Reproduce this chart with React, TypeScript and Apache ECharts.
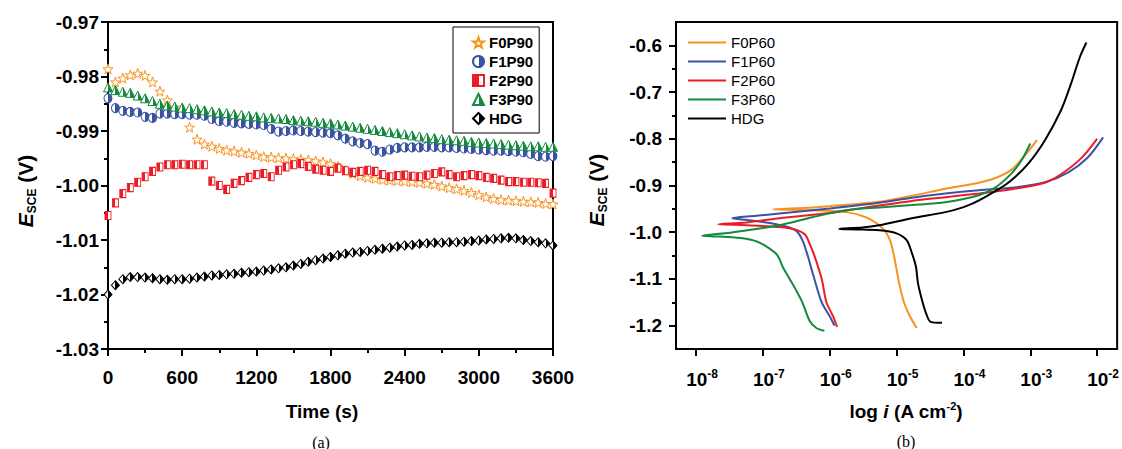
import React, { useEffect, useRef } from "react";
import * as echarts from "echarts";

// ---------- Panel (a): open-circuit potential vs time ----------
const timeS = [
  0, 60, 120, 180, 240, 300, 360, 420, 480, 540,
  600, 660, 720, 780, 840, 900, 960, 1020, 1080, 1140,
  1200, 1260, 1320, 1380, 1440, 1500, 1560, 1620, 1680, 1740,
  1800, 1860, 1920, 1980, 2040, 2100, 2160, 2220, 2280, 2340,
  2400, 2460, 2520, 2580, 2640, 2700, 2760, 2820, 2880, 2940,
  3000, 3060, 3120, 3180, 3240, 3300, 3360, 3420, 3480, 3540,
  3600,
];

const eF0P90 = [
  -0.9786, -0.981, -0.9803, -0.9797, -0.9794, -0.9798, -0.981, -0.9827, -0.9843, -0.9856,
  null, -0.9893, -0.9915, -0.9924, -0.9928, -0.9932, -0.9935, -0.9937, -0.9939, -0.9941,
  -0.9944, -0.9947, -0.9948, -0.9949, -0.995, -0.9951, -0.9952, -0.9953, -0.9955, -0.9957,
  -0.996, -0.9965, -0.9972, -0.9978, -0.9982, -0.9985, -0.9987, -0.9989, -0.999, -0.9991,
  -0.9992, -0.9993, -0.9994, -0.9996, -0.9998, -1.0001, -1.0004, -1.0006, -1.0009, -1.0013,
  -1.0017, -1.0021, -1.0024, -1.0026, -1.0027, -1.0028, -1.0029, -1.003, -1.0031, -1.0033,
  -1.0034,
];

const eF1P90 = [
  -0.984, -0.9858, -0.9863, -0.9865, -0.9866, -0.9874, -0.9876, -0.9868, -0.9868, -0.9869,
  -0.9869, -0.987, -0.987, -0.9872, -0.9878, -0.9882, -0.9883, -0.9885, -0.9886, -0.9887,
  -0.9888, -0.9889, -0.9896, -0.9901, -0.99, -0.9899, -0.99, -0.9901, -0.9902, -0.9903,
  -0.9904, -0.9908, -0.9914, -0.9919, -0.9922, -0.9924, -0.9936, -0.9938, -0.9934, -0.9931,
  -0.993, -0.993, -0.993, -0.9929, -0.9929, -0.993, -0.993, -0.9931, -0.9932, -0.9933,
  -0.9934, -0.9935, -0.9936, -0.9936, -0.9937, -0.9938, -0.9939, -0.9942, -0.9946, -0.9947,
  -0.9946,
];

const eF2P90 = [
  -1.0055, -1.0032, -1.0015, -1.0004, -0.9994, -0.9984, -0.9974, -0.9966, -0.9962, -0.9962,
  -0.9961, -0.9962, -0.9962, -0.9962, -0.9992, -1.0, -1.0007, -0.9996, -0.9991, -0.9985,
  -0.998, -0.9978, -0.9984, -0.9972, -0.9966, -0.9962, -0.996, -0.9965, -0.997, -0.9972,
  -0.9974, -0.9968, -0.9973, -0.9976, -0.9974, -0.9972, -0.9974, -0.998, -0.9984, -0.9982,
  -0.9981, -0.9983, -0.9984, -0.9981, -0.9978, -0.9975, -0.998, -0.9984, -0.9982, -0.998,
  -0.9982, -0.9985, -0.9987, -0.999, -0.9993, -0.9993, -0.9994, -0.9994, -0.9995, -0.9996,
  -1.0014,
];

const eF3P90 = [
  -0.982, -0.9825, -0.9828, -0.983, -0.9835, -0.984, -0.9845, -0.985, -0.9853, -0.9855,
  -0.9857, -0.9858, -0.986, -0.9862, -0.9864, -0.9866, -0.9867, -0.9869, -0.987, -0.9872,
  -0.9873, -0.9875, -0.9876, -0.9877, -0.9878, -0.988, -0.9881, -0.9882, -0.9883, -0.9885,
  -0.9886, -0.9888, -0.989, -0.9892, -0.9894, -0.9896, -0.9898, -0.99, -0.9902, -0.9904,
  -0.9906, -0.9908, -0.991, -0.9912, -0.9913, -0.9915, -0.9916, -0.9917, -0.9918, -0.992,
  -0.9921, -0.9922, -0.9923, -0.9924, -0.9925, -0.9926, -0.9927, -0.9928, -0.9928, -0.9929,
  -0.9929,
];

const eHDG90 = [
  -1.02, -1.0183, -1.0172, -1.0168, -1.0168, -1.0169, -1.017, -1.0172, -1.0173, -1.0172,
  -1.0172, -1.0171, -1.0169, -1.0167, -1.0165, -1.0164, -1.0163, -1.0162, -1.016, -1.0159,
  -1.0158, -1.0156, -1.0154, -1.0152, -1.015, -1.0147, -1.0144, -1.014, -1.0137, -1.0134,
  -1.0131, -1.0128, -1.0125, -1.0123, -1.0122, -1.012, -1.0118, -1.0116, -1.0114, -1.0112,
  -1.011, -1.0109, -1.0107, -1.0106, -1.0105, -1.0105, -1.0104, -1.0104, -1.0103, -1.0102,
  -1.0101, -1.0099, -1.0098, -1.0097, -1.0096, -1.0097, -1.01, -1.0102, -1.0104, -1.0106,
  -1.011,
];

const timeTicks = [0, 600, 1200, 1800, 2400, 3000, 3600];

// ---------- Panel (b): polarization curves (log10 i, E) ----------
const logiF0P60 = [-4.7, -4.8, -4.89, -4.96, -5.0, -5.04, -5.09, -5.16, -5.26, -5.46, -5.75, -6.3, -6.85, -6.26, -5.75, -5.26, -4.77, -4.27, -3.77, -3.52, -3.28, -3.07, -2.9];
const eF0P60 = [-1.205, -1.18, -1.15, -1.11, -1.08, -1.05, -1.02, -1.0, -0.985, -0.968, -0.957, -0.953, -0.951, -0.947, -0.941, -0.935, -0.922, -0.907, -0.894, -0.884, -0.866, -0.834, -0.803];

const logiF1P60 = [-5.93, -6.0, -6.12, -6.23, -6.33, -6.4, -6.48, -6.6, -6.8, -7.0, -7.24, -7.46, -7.1, -6.75, -6.0, -5.26, -4.77, -4.27, -3.77, -3.28, -2.78, -2.43, -2.14, -1.91];
const eF1P60 = [-1.2, -1.18, -1.15, -1.1, -1.05, -1.02, -1.0, -0.99, -0.983, -0.978, -0.974, -0.97, -0.965, -0.96, -0.949, -0.937, -0.926, -0.917, -0.91, -0.905, -0.893, -0.872, -0.84, -0.797];

const logiF2P60 = [-5.89, -5.95, -6.05, -6.12, -6.23, -6.3, -6.37, -6.5, -6.75, -7.24, -7.67, -7.24, -6.75, -6.0, -5.26, -4.77, -4.27, -3.77, -3.28, -2.78, -2.54, -2.24, -2.0];
const eF2P60 = [-1.203, -1.18, -1.15, -1.1, -1.05, -1.025, -1.005, -0.995, -0.989, -0.985, -0.983, -0.979, -0.97, -0.959, -0.943, -0.933, -0.925, -0.917, -0.908, -0.894, -0.876, -0.842, -0.8];

const logiF3P60 = [-6.08, -6.2, -6.3, -6.41, -6.5, -6.6, -6.7, -6.78, -6.9, -7.09, -7.3, -7.54, -7.75, -7.91, -7.49, -7.0, -6.75, -6.26, -5.76, -5.26, -4.77, -4.27, -3.77, -3.52, -3.28, -3.13, -3.0];
const eF3P60 = [-1.211, -1.205, -1.19, -1.15, -1.125, -1.1, -1.075, -1.05, -1.035, -1.02, -1.013, -1.01, -1.009, -1.0075, -1.001, -0.991, -0.985, -0.968, -0.953, -0.947, -0.942, -0.936, -0.921, -0.904, -0.874, -0.846, -0.81];

const logiHDG60 = [-4.32, -4.49, -4.56, -4.62, -4.68, -4.71, -4.77, -4.85, -5.01, -5.26, -5.6, -5.86, -5.51, -5.26, -4.77, -4.27, -3.92, -3.63, -3.32, -3.03, -2.78, -2.54, -2.39, -2.26, -2.16];
const eHDG60 = [-1.194, -1.192, -1.173, -1.145, -1.109, -1.074, -1.045, -1.017, -1.002, -0.996, -0.994, -0.993, -0.99, -0.985, -0.97, -0.957, -0.942, -0.921, -0.893, -0.853, -0.803, -0.739, -0.682, -0.626, -0.594];

const logiTicks = [-8, -7, -6, -5, -4, -3, -2];
const eTicksB = [-1.2, -1.1, -1.0, -0.9, -0.8, -0.7, -0.6];

const FONT = '"Liberation Sans", Arial, Helvetica, sans-serif';
const SERIF = '"Liberation Serif", "Times New Roman", serif';

const ORANGE = "#f7931e";
const BLUE = "#3a52a3";
const RED = "#ed1c24";
const GREEN = "#138a3e";
const BLACK = "#000000";

const halfFill = (left: string, right: string) => ({
  type: "linear",
  x: 0,
  y: 0,
  x2: 1,
  y2: 0,
  colorStops: [
    { offset: 0, color: left },
    { offset: 0.5, color: left },
    { offset: 0.5, color: right },
    { offset: 1, color: right },
  ],
});

const STAR =
  "path://M10,0 L12.35,7.24 L19.51,7.24 L13.78,11.71 L15.88,18.09 L10,14.27 L4.12,18.09 L6.22,11.71 L0.49,7.24 L7.65,7.24 Z";

const pairs = (xs: number[], ys: (number | null)[]) => xs.map((x, i) => [x, ys[i]]);

export default function App() {
  const ref = useRef<HTMLDivElement>(null);

  useEffect(() => {
    if (!ref.current) return;
    const chart = echarts.init(ref.current, null, { renderer: "svg" });

    const axisLineStyle = { show: true, onZero: false, lineStyle: { color: "#000", width: 2 } };
    const labelStyle = { color: "#000", fontFamily: FONT, fontWeight: "bold", fontSize: 19 };

    const scatterBase = (name: string, data: any[], symbol: string, size: any, fill: any, color: string) => ({
      type: "scatter",
      name,
      xAxisIndex: 0,
      yAxisIndex: 0,
      data,
      symbol,
      symbolSize: size,
      itemStyle: { color: fill, borderColor: color, borderWidth: 1, opacity: 1 },
      emphasis: { disabled: true },
    });

    const lineBase = (name: string, data: any[], color: string) => ({
      type: "line",
      name,
      xAxisIndex: 1,
      yAxisIndex: 1,
      data,
      showSymbol: false,
      symbol: "none",
      smooth: 0.3,
      lineStyle: { color, width: 2 },
      itemStyle: { color },
      emphasis: { disabled: true },
    });

    const option: any = {
      animation: false,
      backgroundColor: "#ffffff",
      grid: [
        { left: 108, top: 22, width: 445, height: 327, show: true, borderColor: "#000", borderWidth: 2, backgroundColor: "transparent" },
        { left: 676, top: 22, width: 443, height: 327, show: true, borderColor: "#000", borderWidth: 2, backgroundColor: "transparent" },
      ],
      xAxis: [
        {
          type: "value",
          gridIndex: 0,
          min: 0,
          max: 3600,
          interval: 600,
          axisLine: axisLineStyle,
          axisTick: { show: true, length: 7, lineStyle: { color: "#000", width: 2 } },
          minorTick: { show: true, splitNumber: 2, length: 4, lineStyle: { color: "#000", width: 2 } },
          splitLine: { show: false },
          axisLabel: { ...labelStyle, margin: 19, customValues: timeTicks, formatter: (v: number) => String(v) },
        },
        {
          type: "value",
          gridIndex: 1,
          min: -8.3,
          max: -1.7,
          splitNumber: 6,
          axisLine: axisLineStyle,
          axisTick: { show: true, length: 7, lineStyle: { color: "#000", width: 2 }, customValues: logiTicks },
          splitLine: { show: false },
          axisLabel: {
            margin: 19,
            customValues: logiTicks,
            formatter: (v: number) => `{s| }{b|10}{sup|${Math.round(v)}}`,
            rich: {
              s: { width: 12, fontSize: 12 },
              b: { ...labelStyle, fontSize: 19, lineHeight: 22, verticalAlign: "middle" },
              sup: { ...labelStyle, fontSize: 12, lineHeight: 12, verticalAlign: "top" },
            },
          },
        },
      ],
      yAxis: [
        {
          type: "value",
          gridIndex: 0,
          min: -1.03,
          max: -0.97,
          interval: 0.01,
          axisLine: axisLineStyle,
          axisTick: { show: true, length: 7, lineStyle: { color: "#000", width: 2 } },
          minorTick: { show: true, splitNumber: 2, length: 4, lineStyle: { color: "#000", width: 2 } },
          splitLine: { show: false },
          axisLabel: { ...labelStyle, margin: 9, formatter: (v: number) => v.toFixed(2) },
        },
        {
          type: "value",
          gridIndex: 1,
          min: -1.25,
          max: -0.55,
          splitNumber: 7,
          axisLine: axisLineStyle,
          axisTick: { show: true, length: 7, lineStyle: { color: "#000", width: 2 }, customValues: eTicksB },
          minorTick: { show: true, splitNumber: 2, length: 4, lineStyle: { color: "#000", width: 2 } },
          splitLine: { show: false },
          axisLabel: { ...labelStyle, margin: 14, customValues: eTicksB, formatter: (v: number) => v.toFixed(1) },
        },
      ],
      legend: [
        {
          left: 453,
          top: 27,
          orient: "vertical",
          data: ["F0P90", "F1P90", "F2P90", "F3P90", "HDG"],
          borderColor: "#000",
          borderWidth: 1,
          padding: [6, 6, 5, 19],
          itemGap: 0,
          itemWidth: 11,
          itemHeight: 11,
          itemTextGap: 13,
          selectedMode: false,
          textStyle: { color: "#000", fontFamily: FONT, fontWeight: "bold", fontSize: 15, lineHeight: 19 },
        },
        {
          left: 688,
          top: 33,
          orient: "vertical",
          data: [
            { name: "F0P60", icon: "rect" },
            { name: "F1P60", icon: "rect" },
            { name: "F2P60", icon: "rect" },
            { name: "F3P60", icon: "rect" },
            { name: "HDG ", icon: "rect" },
          ],
          padding: 0,
          itemGap: 0,
          itemWidth: 38,
          itemHeight: 2,
          itemTextGap: 3,
          selectedMode: false,
          textStyle: { color: "#000", fontFamily: FONT, fontSize: 15, lineHeight: 19 },
        },
      ],
      series: [
        scatterBase("F0P90", pairs(timeS, eF0P90), STAR, 10, "#ffffff", ORANGE),
        scatterBase("F1P90", pairs(timeS, eF1P90), "circle", [8, 9], halfFill("#ffffff", BLUE), BLUE),
        scatterBase("F2P90", pairs(timeS, eF2P90), "rect", [6, 8], halfFill(RED, "#ffffff"), RED),
        scatterBase("F3P90", pairs(timeS, eF3P90), "triangle", [9, 9], halfFill("#ffffff", GREEN), GREEN),
        scatterBase("HDG", pairs(timeS, eHDG90), "diamond", [8, 9], halfFill("#ffffff", BLACK), BLACK),
        lineBase("F0P60", pairs(logiF0P60, eF0P60), ORANGE),
        lineBase("F1P60", pairs(logiF1P60, eF1P60), BLUE),
        lineBase("F2P60", pairs(logiF2P60, eF2P60), RED),
        lineBase("F3P60", pairs(logiF3P60, eF3P60), GREEN),
        lineBase("HDG ", pairs(logiHDG60, eHDG60), BLACK),
      ],
      graphic: [
        {
          type: "text",
          x: 322,
          y: 411,
          style: { text: "Time (s)", font: `bold 19px ${FONT}`, fill: "#000", align: "center", verticalAlign: "middle" },
        },
        {
          type: "text",
          x: 906,
          y: 411,
          style: {
            text: "{b|log }{i|i}{b| (A cm}{sup|-2}{b|)}",
            align: "center",
            verticalAlign: "middle",
            rich: {
              b: { fontFamily: FONT, fontWeight: "bold", fontSize: 19, lineHeight: 22, verticalAlign: "middle", fill: "#000" },
              i: { fontFamily: FONT, fontWeight: "bold", fontStyle: "italic", fontSize: 19, lineHeight: 22, verticalAlign: "middle", fill: "#000" },
              sup: { fontFamily: FONT, fontWeight: "bold", fontSize: 11, lineHeight: 11, verticalAlign: "top", fill: "#000" },
            },
          },
        },
        {
          type: "text",
          x: 25,
          y: 191,
          rotation: Math.PI / 2,
          style: {
            text: "{e|E}{s|SCE}{b| (V)}",
            align: "center",
            verticalAlign: "middle",
            rich: {
              e: { fontFamily: FONT, fontWeight: "bold", fontStyle: "italic", fontSize: 21, lineHeight: 26, verticalAlign: "middle", fill: "#000" },
              s: { fontFamily: FONT, fontWeight: "bold", fontSize: 12, lineHeight: 12, verticalAlign: "bottom", fill: "#000" },
              b: { fontFamily: FONT, fontWeight: "bold", fontSize: 21, lineHeight: 26, verticalAlign: "middle", fill: "#000" },
            },
          },
        },
        {
          type: "text",
          x: 596,
          y: 190,
          rotation: Math.PI / 2,
          style: {
            text: "{e|E}{s|SCE}{b| (V)}",
            align: "center",
            verticalAlign: "middle",
            rich: {
              e: { fontFamily: FONT, fontWeight: "bold", fontStyle: "italic", fontSize: 21, lineHeight: 26, verticalAlign: "middle", fill: "#000" },
              s: { fontFamily: FONT, fontWeight: "bold", fontSize: 12, lineHeight: 12, verticalAlign: "bottom", fill: "#000" },
              b: { fontFamily: FONT, fontWeight: "bold", fontSize: 21, lineHeight: 26, verticalAlign: "middle", fill: "#000" },
            },
          },
        },
        {
          type: "text",
          x: 321,
          y: 442,
          style: { text: "(a)", font: `16px ${SERIF}`, fill: "#000", align: "center", verticalAlign: "middle" },
        },
        {
          type: "text",
          x: 906,
          y: 441,
          style: { text: "(b)", font: `16px ${SERIF}`, fill: "#000", align: "center", verticalAlign: "middle" },
        },
      ],
    };

    chart.setOption(option);
    return () => chart.dispose();
  }, []);

  return (
    <div
      ref={ref}
      style={{ position: "fixed", left: 0, top: 0, width: 1122, height: 449, background: "#fff" }}
    />
  );
}
